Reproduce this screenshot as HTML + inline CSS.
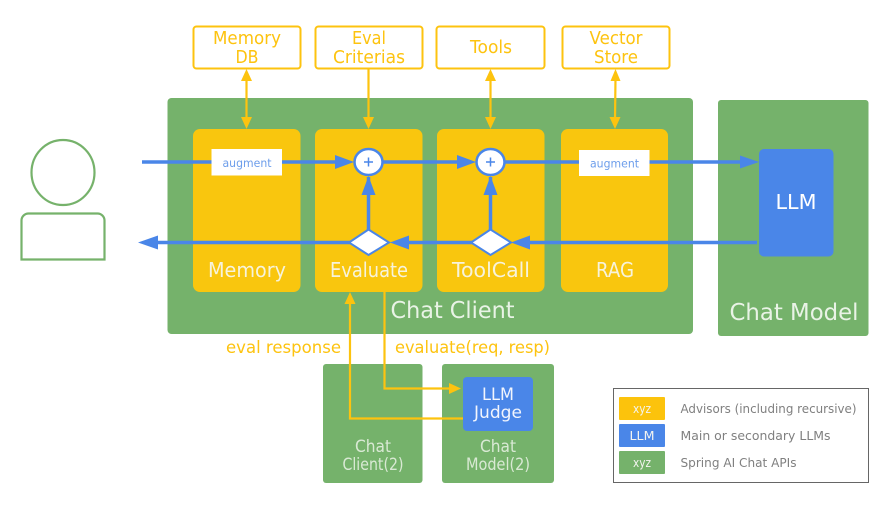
<!DOCTYPE html>
<html>
<head>
<meta charset="utf-8">
<style>
html,body{margin:0;padding:0;background:#fff;width:896px;height:510px;overflow:hidden}
svg{display:block}
text{font-family:"DejaVu Sans","Liberation Sans",sans-serif;text-anchor:middle}
</style>
</head>
<body>
<svg width="896" height="510" viewBox="0 0 896 510" xmlns="http://www.w3.org/2000/svg">
<rect width="896" height="510" fill="#fff"/>

<!-- Person -->
<ellipse cx="63" cy="172.5" rx="31.5" ry="32.5" fill="none" stroke="#76b26b" stroke-width="2.2"/>
<path d="M21.500 259.500V220.500a7 7 0 0 1 7-7H97.500a7 7 0 0 1 7 7V259.500Z" fill="none" stroke="#76b26b" stroke-width="2.2"/>

<!-- Green containers -->
<rect x="167.500" y="98" width="525.500" height="236" rx="4" fill="#75b26b"/>
<rect x="718" y="100" width="150.500" height="236" rx="3" fill="#75b26b"/>
<rect x="323" y="364" width="99.500" height="119" rx="3" fill="#75b26b"/>
<rect x="442" y="364" width="112" height="119" rx="3" fill="#75b26b"/>

<!-- Advisor boxes -->
<rect x="193" y="129" width="107.500" height="163" rx="7" fill="#f9c60e"/>
<rect x="315" y="129" width="107.500" height="163" rx="7" fill="#f9c60e"/>
<rect x="437" y="129" width="107.500" height="163" rx="7" fill="#f9c60e"/>
<rect x="561" y="129" width="107" height="163" rx="7" fill="#f9c60e"/>

<!-- LLM boxes -->
<rect x="759" y="149" width="74.500" height="107.500" rx="5" fill="#4a86e8"/>
<rect x="463" y="377" width="70" height="54" rx="4" fill="#4a86e8"/>

<!-- Top boxes -->
<g fill="#fff" stroke="#fdc30f" stroke-width="2">
<rect x="193.500" y="26.500" width="107" height="42" rx="3"/>
<rect x="315.500" y="26.500" width="107" height="42" rx="3"/>
<rect x="436.500" y="26.500" width="108" height="42" rx="3"/>
<rect x="562.500" y="26.500" width="107" height="42" rx="3"/>
</g>

<!-- Yellow connectors -->
<g stroke="#fdc30f" stroke-width="2.2" fill="none">
<path d="M246.500 78V120"/>
<path d="M368.500 69V120"/>
<path d="M490.500 78V120"/>
<path d="M615.500 78L615 120"/>
<path d="M350 300V418.500H463"/>
<path d="M384.500 292V388.500H450"/>
</g>
<g fill="#fdc30f">
<path d="M246.500 69l-5.500 12h11zM246.500 129l-5.500 -12h11z"/>
<path d="M368.500 129l-5.500 -12h11z"/>
<path d="M490.500 69l-5.500 12h11zM490.500 129l-5.500 -12h11z"/>
<path d="M615.500 69l-5 12h10zM615 129l-5.500 -12h11z"/>
<path d="M350 292l-5.500 12h11z"/>
<path d="M461 388.500l-12 -5.500v11z"/>
</g>

<!-- Blue connectors -->
<g stroke="#4a86e8" stroke-width="3.500" fill="none">
<path d="M142 162H212"/>
<path d="M282 162H345"/>
<path d="M382 162H467"/>
<path d="M504 162H580"/>
<path d="M649 162H742"/>
<path d="M368.500 177V232"/>
<path d="M490.500 177V232"/>
<path d="M155 242.500H352"/>
<path d="M400 242.500H475"/>
<path d="M525 242.500H757"/>
</g>
<g fill="#4a86e8">
<path d="M354 162l-19 -7v14z"/>
<path d="M476 162l-19 -7v14z"/>
<path d="M759 162l-19 -6.500v13z"/>
<path d="M368.500 176l-7 19h14z"/>
<path d="M490.500 176l-7 19h14z"/>
<path d="M138 242.500l20 -7v14z"/>
<path d="M390 242.500l19 -7v14z"/>
<path d="M511 242.500l19 -7v14z"/>
</g>

<!-- Plus nodes -->
<g fill="#fff" stroke="#4a86e8" stroke-width="2.500">
<ellipse cx="368.500" cy="162" rx="14" ry="13"/>
<ellipse cx="490.500" cy="162" rx="14" ry="13"/>
</g>
<g stroke="#4a86e8" stroke-width="1.500">
<path d="M364 162h9M368.500 157.500v9"/>
<path d="M486 162h9M490.500 157.500v9"/>
</g>

<!-- Diamonds -->
<g fill="#fff" stroke="#4a86e8" stroke-width="2">
<path d="M368.500 229.500L389 242.500L368.500 255L349 242.500Z"/>
<path d="M490.500 229.500L511 242.500L490.500 255L471 242.500Z"/>
</g>

<!-- Augment -->
<rect x="211.500" y="149" width="70.500" height="26.500" fill="#fff"/>
<rect x="579" y="150" width="70.500" height="26" fill="#fff"/>
<g fill="#6d9eeb" font-size="11.500">
<text x="247" y="167" textLength="49" lengthAdjust="spacingAndGlyphs">augment</text>
<text x="614.500" y="167.500" textLength="49" lengthAdjust="spacingAndGlyphs">augment</text>
</g>

<!-- Top labels -->
<g fill="#fdc30f" font-size="18">
<text x="247" y="44" textLength="68" lengthAdjust="spacingAndGlyphs">Memory</text>
<text x="247" y="63" textLength="23" lengthAdjust="spacingAndGlyphs">DB</text>
<text x="369" y="44" textLength="34" lengthAdjust="spacingAndGlyphs">Eval</text>
<text x="369" y="63" textLength="72" lengthAdjust="spacingAndGlyphs">Criterias</text>
<text x="491" y="53" textLength="42" lengthAdjust="spacingAndGlyphs">Tools</text>
<text x="616" y="44" textLength="53" lengthAdjust="spacingAndGlyphs">Vector</text>
<text x="616" y="63" textLength="44" lengthAdjust="spacingAndGlyphs">Store</text>
</g>

<!-- Advisor labels -->
<g fill="#f7f3dc" font-size="20">
<text x="247" y="277" textLength="78" lengthAdjust="spacingAndGlyphs">Memory</text>
<text x="369" y="277" textLength="78" lengthAdjust="spacingAndGlyphs">Evaluate</text>
<text x="491" y="277" textLength="78" lengthAdjust="spacingAndGlyphs">ToolCall</text>
<text x="615" y="277" textLength="38" lengthAdjust="spacingAndGlyphs">RAG</text>
</g>

<!-- Container labels -->
<g fill="#e9f3e6" font-size="23">
<text x="452.500" y="318" textLength="124" lengthAdjust="spacingAndGlyphs">Chat Client</text>
<text x="794" y="320" textLength="129" lengthAdjust="spacingAndGlyphs">Chat Model</text>
</g>
<text x="796" y="209" fill="#fff" font-size="20" textLength="41" lengthAdjust="spacingAndGlyphs">LLM</text>

<g fill="#f2f5fd" font-size="17">
<text x="498" y="400" textLength="32" lengthAdjust="spacingAndGlyphs">LLM</text>
<text x="498" y="418" textLength="48" lengthAdjust="spacingAndGlyphs">Judge</text>
</g>

<g fill="#d9e9d4" font-size="17">
<text x="373" y="452" textLength="36" lengthAdjust="spacingAndGlyphs">Chat</text>
<text x="373" y="470" textLength="61" lengthAdjust="spacingAndGlyphs">Client(2)</text>
<text x="498" y="452" textLength="36" lengthAdjust="spacingAndGlyphs">Chat</text>
<text x="498" y="470" textLength="64" lengthAdjust="spacingAndGlyphs">Model(2)</text>
</g>

<!-- Connector labels -->
<g fill="#fdc30f" font-size="16.500">
<text x="283.500" y="353" textLength="115" lengthAdjust="spacingAndGlyphs">eval response</text>
<text x="472.500" y="353" textLength="155" lengthAdjust="spacingAndGlyphs">evaluate(req, resp)</text>
</g>

<!-- Legend -->
<rect x="613.500" y="388.500" width="255" height="94" fill="#fff" stroke="#666" stroke-width="1"/>
<rect x="619" y="397" width="46" height="23" rx="1" fill="#fcc30c"/>
<rect x="619" y="424" width="46" height="23" rx="1" fill="#4a86e8"/>
<rect x="619" y="451" width="46" height="23" rx="1" fill="#75b26b"/>
<g fill="#f4f4f0" font-size="12.500">
<text x="642" y="413" textLength="18" lengthAdjust="spacingAndGlyphs">xyz</text>
<text x="642" y="440" textLength="25" lengthAdjust="spacingAndGlyphs">LLM</text>
<text x="642" y="467" textLength="18" lengthAdjust="spacingAndGlyphs">xyz</text>
</g>
<g fill="#808080" font-size="12.500">
<text x="680.500" y="413" style="text-anchor:start" textLength="176" lengthAdjust="spacingAndGlyphs">Advisors (including recursive)</text>
<text x="680.500" y="440" style="text-anchor:start" textLength="150" lengthAdjust="spacingAndGlyphs">Main or secondary LLMs</text>
<text x="680.500" y="467" style="text-anchor:start" textLength="116" lengthAdjust="spacingAndGlyphs">Spring AI Chat APIs</text>
</g>
</svg>
</body>
</html>
